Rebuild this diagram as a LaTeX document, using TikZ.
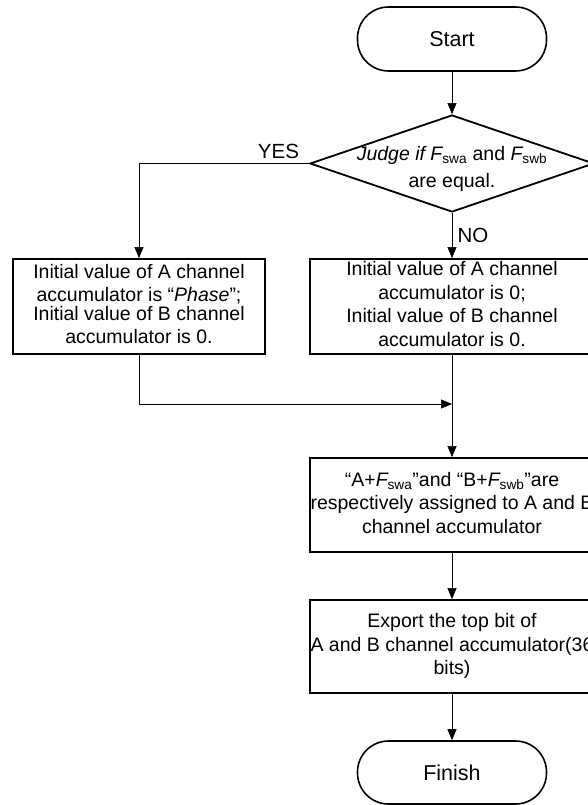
\documentclass[tikz,border=0pt]{standalone}
\usepackage{fontspec}
\setmainfont{Liberation Sans}
\usepackage{tikz}
\usetikzlibrary{arrows.meta,shapes.geometric,positioning}
\tikzstyle{arrow} = [semithick,-{Triangle[width=9pt,length=11pt]}]
\tikzstyle{process} = [rectangle, draw, line width=1.8pt, inner sep=0pt, minimum height=95pt, font=\fontsize{19.5}{23.5}\selectfont]
\tikzstyle{terminal} = [rectangle, draw, line width=1.6pt, rounded corners=31pt, minimum width=189pt, minimum height=64pt, font=\fontsize{21.5}{25}\selectfont]
\newcommand{\boxtext}[1]{\makebox[0pt]{\begin{tabular}{@{}c@{}}#1\end{tabular}}}
\newcommand{\Fsub}[1]{{\itshape F}\textsubscript{\upshape #1}}

\begin{document}
\begin{tikzpicture}[x=1pt, y=-1pt,
    decision/.style={diamond, draw, line width=1.8pt, inner sep=0pt, minimum width=284pt, minimum height=97pt, font=\fontsize{19.5}{27}\selectfont},
    answer/.style={font=\fontsize{20.5}{24}\selectfont}]
\useasboundingbox (0,0) rectangle (587,805);

% Terminals
\node[terminal] (start) at (452,39) {Start};
\node[terminal, minimum height=63pt] (finish) at (452,772.5) {Finish};

% Decision
\node[decision] (judge) at (452,163.5) {\raisebox{-10pt}[0pt][0pt]{\boxtext{\itshape Judge if \Fsub{swa}\upshape{} and \Fsub{swb}\\ are equal.}}};

% Initial values
\node[process, minimum width=252pt] (inityes) at (139,306.5) {\boxtext{Initial value of A channel\\ accumulator is “\textit{Phase}”;\\[-5pt] Initial value of B channel\\ accumulator is 0.}};
\node[process, minimum width=284pt] (initno) at (452,306.5) {\boxtext{Initial value of A channel\\ accumulator is 0;\\ Initial value of B channel\\ accumulator is 0.}};

% Accumulate and export
\node[process, minimum width=284pt, minimum height=94pt] (assign) at (452,505) {\boxtext{“A+\Fsub{swa}”and “B+\Fsub{swb}”are\\ respectively assigned to A and B\\ channel accumulator}};
\node[process, minimum width=284pt, minimum height=93pt] (export) at (452,646.5) {\boxtext{Export the top bit of\\ A and B channel accumulator(36\\ bits)}};

\coordinate (merge) at (452,404);

% Connections
\draw[arrow] (start) -- (judge);
\draw[arrow] (judge.west) -| node[answer, pos=0.09, above=1pt] {YES} (inityes.north);
\draw[arrow] (judge.south) -- node[answer, right=2pt] {NO} (initno.north);
\draw[arrow] (inityes.south) |- (merge);
\draw[arrow] (initno) -- (assign);
\draw[arrow] (assign) -- (export);
\draw[arrow] (export) -- (finish);
\end{tikzpicture}
\end{document}
